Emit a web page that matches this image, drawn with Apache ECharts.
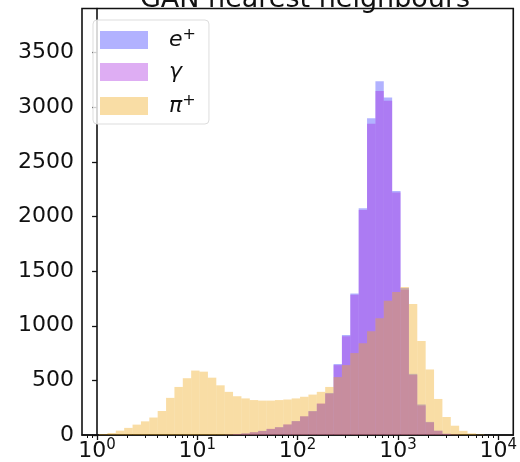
<!DOCTYPE html>
<html lang="en">
<head>
<meta charset="UTF-8">
<title>GAN nearest neighbours</title>
<script src="https://cdn.jsdelivr.net/npm/echarts@6/dist/echarts.min.js"></script>
<style>
    *{
        margin:0;
        padding:0;
    }
    html,body{
        background:#fff;
    }
    #main{
        width:520px;
        height:462px;
    }
</style>
</head>
<body>
<div id="main"></div>
<script>
    // log10 of the first bin's lower edge, and bin width in decades
    var binStart = 0.02;
    var binWidth = 0.0835;

    // counts per bin (48 bins)
    var ePlus = [0,0,0,0,0,0,0,0,0,0, 0,0,0,0,0,3,8,15,25,38,
                 55,72,95,128,170,220,285,385,650,915, 1295,2075,2900,3240,3090,2235,1345,560,280,120,
                 40,12,3,0,0,0,0,0];
    var gamma = [0,0,0,0,0,0,0,0,0,0, 0,0,0,0,0,2,7,14,26,36,
                 57,70,98,125,172,216,290,378,640,905, 1285,2060,2850,3150,3060,2220,1330,550,270,115,
                 38,10,3,0,0,0,0,0];
    var piPlus = [8,18,40,65,95,125,160,220,340,440, 520,590,580,525,455,395,355,335,320,315,
                  315,320,325,335,350,370,395,440,530,640, 750,840,950,1070,1230,1310,1355,1200,860,600,
                  330,165,85,38,15,5,0,0];

    var seriesNames = ['e+', 'γ', 'π+'];
    var legendLabels = ['{p| }{m|e}{s|+}', '{p| }{m|γ}', '{p| }{m|π}{s|+}'];
    var seriesColors = ['rgba(0,0,255,0.3)', 'rgba(160,20,220,0.35)', 'rgba(240,170,30,0.4)'];

    var majorTicks = [0, 1, 2, 3, 4];
    var yTicks = [0, 500, 1000, 1500, 2000, 2500, 3000, 3500];

    // minor ticks at 2..9 x 10^n (log positions)
    var minorTicks = [Math.log10(0.8), Math.log10(0.9)];
    for (var d = 0; d < 4; d++) {
        for (var m = 2; m <= 9; m++) {
            minorTicks.push(d + Math.log10(m));
        }
    }

    function toBins(counts) {
        return counts.map(function (c, i) {
            var lo = binStart + i * binWidth;
            return [lo, lo + binWidth, c];
        });
    }

    function histSeries(name, counts, color) {
        return {
            name: name,
            type: 'custom',
            xAxisIndex: 0,
            yAxisIndex: 0,
            itemStyle: {color: color},
            encode: {x: [0, 1], y: 2},
            data: toBins(counts),
            renderItem: function (params, api) {
                if (!api.value(2)) return null;
                var p0 = api.coord([api.value(0), api.value(2)]);
                var p1 = api.coord([api.value(1), 0]);
                return {
                    type: 'rect',
                    shape: {x: p0[0], y: p0[1], width: p1[0] - p0[0], height: p1[1] - p0[1]},
                    style: {fill: color}
                };
            }
        };
    }

    var font = 'DejaVu Sans';
    var chart = echarts.init(document.getElementById('main'));

    var option = {
        backgroundColor: '#fff',
        animation: false,
        title: {
            text: 'GAN nearest neighbours',
            left: 300,
            textAlign: 'center',
            top: -19,
            textStyle: {
                fontFamily: font,
                fontSize: 27,
                fontWeight: 'normal',
                color: '#111'
            }
        },
        grid: {
            left: 82,
            right: 1,
            top: 8.5,
            bottom: 25,
            show: true,
            borderColor: '#111',
            borderWidth: 1.6,
            backgroundColor: '#fff'
        },
        legend: {
            orient: 'vertical',
            left: 93,
            top: 20,
            padding: [7, 13, 7, 7],
            itemWidth: 48,
            itemHeight: 18,
            itemGap: 10,
            backgroundColor: 'rgba(255,255,255,0.8)',
            borderColor: '#ddd',
            borderWidth: 1,
            borderRadius: 4,
            data: seriesNames.map(function (n) { return {name: n, icon: 'rect'}; }),
            formatter: function (name) {
                return legendLabels[seriesNames.indexOf(name)];
            },
            textStyle: {
                color: '#111',
                rich: {
                    p: {width: 16, lineHeight: 26},
                    m: {fontFamily: font, fontStyle: 'italic', fontSize: 22, lineHeight: 26},
                    s: {fontFamily: font, fontSize: 16, lineHeight: 26, verticalAlign: 'top', padding: [0, 0, 8, 0]}
                }
            }
        },
        xAxis: [{
            type: 'value',
            min: -0.15,
            max: 4.15,
            splitLine: {show: false},
            axisLine: {show: true, lineStyle: {color: '#111', width: 1.6}},
            axisTick: {show: true, customValues: majorTicks, length: 5, lineStyle: {color: '#111', width: 1.3}},
            axisLabel: {
                customValues: majorTicks,
                margin: 3,
                color: '#111',
                formatter: function (v) {
                    return '{b|10}{e|' + Math.round(v) + '}';
                },
                rich: {
                    b: {fontFamily: font, fontSize: 22, lineHeight: 26, color: '#111'},
                    e: {fontFamily: font, fontSize: 15, lineHeight: 26, verticalAlign: 'top', color: '#111', padding: [0, 0, 8, 0]}
                }
            }
        }, {
            type: 'value',
            min: -0.15,
            max: 4.15,
            position: 'bottom',
            splitLine: {show: false},
            axisLine: {show: false},
            axisTick: {show: true, customValues: minorTicks, length: 3, lineStyle: {color: '#111', width: 1}},
            axisLabel: {show: false}
        }],
        yAxis: {
            type: 'value',
            min: 0,
            max: 3905,
            interval: 500,
            splitLine: {show: false},
            axisLine: {show: true, lineStyle: {color: '#111', width: 1.6}},
            axisTick: {show: true, customValues: yTicks, length: 5, lineStyle: {color: '#111', width: 1.3}},
            axisLabel: {
                customValues: yTicks,
                margin: 8,
                fontFamily: font,
                fontSize: 22,
                color: '#111',
                formatter: function (v) {
                    return String(v);
                }
            }
        },
        series: [
            histSeries(seriesNames[0], ePlus, seriesColors[0]),
            histSeries(seriesNames[1], gamma, seriesColors[1]),
            histSeries(seriesNames[2], piPlus, seriesColors[2])
        ]
    };
    chart.setOption(option);
</script>
</body>
</html>
